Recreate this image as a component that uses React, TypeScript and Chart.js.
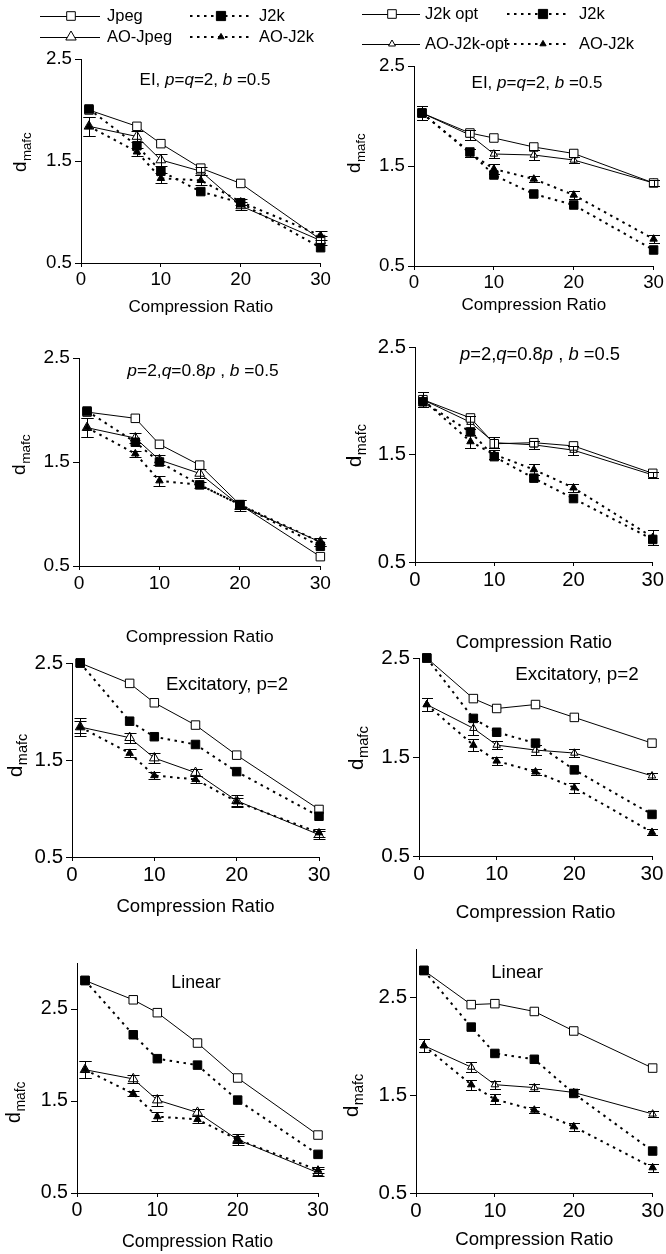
import React, { useEffect, useRef } from "react";
import { Chart, registerables } from "chart.js";

Chart.register(...registerables);

const FAMILY = "'Liberation Sans', Arial, Helvetica, sans-serif";

// ---------- data ----------
const compressionRatio = [1, 7, 10, 15, 20, 30];
const xTickValues = [0, 10, 20, 30];
const yTickValues = [0.5, 1.5, 2.5];
const xAxisTitle = "Compression Ratio";
const yAxisMain = "d";
const yAxisSub = "mafc";

const leftSeriesNames = ["Jpeg", "J2k", "AO-Jpeg", "AO-J2k"];
const rightSeriesNames = ["J2k opt", "J2k", "AO-J2k-opt", "AO-J2k"];

// Panel 1: EI, left
const p1Jpeg = [2.0, 1.84, 1.67, 1.43, 1.28, 0.73];
const p1J2k = [2.01, 1.65, 1.4, 1.2, 1.09, 0.65];
const p1AOJpeg = [1.84, 1.74, 1.51, 1.4, 1.06, 0.72];
const p1AOJ2k = [1.84, 1.59, 1.33, 1.31, 1.1, 0.77];
const p1AOJpegErr = [0.09, 0.05, 0.06, 0.04, 0.04, 0.04];
const p1AOJ2kErr = [0.09, 0.04, 0.05, 0.05, 0.03, 0.04];

// Panel 2: EI, right
const p2J2kOpt = [2.03, 1.83, 1.78, 1.69, 1.625, 1.33];
const p2J2k = [2.03, 1.64, 1.41, 1.22, 1.11, 0.66];
const p2AOJ2kOpt = [2.03, 1.81, 1.62, 1.61, 1.56, 1.33];
const p2AOJ2k = [2.03, 1.63, 1.47, 1.37, 1.21, 0.77];
const p2AOJ2kOptErr = [0.07, 0.05, 0.04, 0.05, 0.03, 0.03];
const p2AOJ2kErr = [0.07, 0.04, 0.05, 0.03, 0.04, 0.04];

// Panel 3: p=2, q=0.8p, left
const p3Jpeg = [1.98, 1.92, 1.67, 1.47, 1.09, 0.59];
const p3J2k = [1.99, 1.69, 1.5, 1.28, 1.09, 0.69];
const p3AOJpeg = [1.83, 1.73, 1.52, 1.39, 1.08, 0.73];
const p3AOJ2k = [1.83, 1.58, 1.32, 1.28, 1.09, 0.73];
const p3AOJpegErr = [0.09, 0.05, 0.05, 0.04, 0.05, 0.04];
const p3AOJ2kErr = [0.09, 0.03, 0.05, 0.03, 0.04, 0.04];

// Panel 4: p=2, q=0.8p, right
const p4J2kOpt = [2.01, 1.84, 1.6, 1.61, 1.58, 1.325];
const p4J2k = [1.99, 1.71, 1.48, 1.28, 1.09, 0.71];
const p4AOJ2kOpt = [2.01, 1.8, 1.61, 1.59, 1.54, 1.31];
const p4AOJ2k = [2.01, 1.62, 1.5, 1.36, 1.19, 0.73];
const p4AOJ2kOptErr = [0.07, 0.06, 0.05, 0.04, 0.04, 0.03];
const p4AOJ2kErr = [0.07, 0.06, 0.04, 0.05, 0.04, 0.07];

// Panel 5: Excitatory, left
const p5Jpeg = [2.5, 2.29, 2.09, 1.86, 1.55, 0.99];
const p5J2k = [2.5, 1.9, 1.74, 1.66, 1.38, 0.92];
const p5AOJpeg = [1.84, 1.73, 1.52, 1.37, 1.08, 0.73];
const p5AOJ2k = [1.84, 1.57, 1.34, 1.3, 1.07, 0.75];
const p5AOJpegErr = [0.09, 0.05, 0.05, 0.04, 0.06, 0.04];
const p5AOJ2kErr = [0.06, 0.04, 0.04, 0.04, 0.04, 0.04];

// Panel 6: Excitatory, right
const p6J2kOpt = [2.5, 2.09, 1.99, 2.03, 1.9, 1.64];
const p6J2k = [2.5, 1.89, 1.75, 1.64, 1.37, 0.92];
const p6AOJ2kOpt = [2.03, 1.79, 1.62, 1.57, 1.54, 1.31];
const p6AOJ2k = [2.03, 1.62, 1.46, 1.35, 1.19, 0.74];
const p6AOJ2kOptErr = [0.07, 0.07, 0.04, 0.05, 0.04, 0.03];
const p6AOJ2kErr = [0.07, 0.06, 0.04, 0.03, 0.05, 0.03];

// Panel 7: Linear, left
const p7Jpeg = [2.81, 2.6, 2.46, 2.13, 1.75, 1.13];
const p7J2k = [2.81, 2.22, 1.96, 1.89, 1.51, 0.92];
const p7AOJpeg = [1.84, 1.74, 1.51, 1.375, 1.08, 0.72];
const p7AOJ2k = [1.84, 1.58, 1.33, 1.3, 1.08, 0.75];
const p7AOJpegErr = [0.09, 0.04, 0.06, 0.04, 0.06, 0.04];
const p7AOJ2kErr = [0.09, 0.03, 0.05, 0.04, 0.04, 0.03];

// Panel 8: Linear, right
const p8J2kOpt = [2.78, 2.43, 2.44, 2.36, 2.16, 1.78];
const p8J2k = [2.78, 2.2, 1.93, 1.87, 1.52, 0.93];
const p8AOJ2kOpt = [2.01, 1.79, 1.61, 1.58, 1.53, 1.31];
const p8AOJ2k = [2.01, 1.61, 1.46, 1.35, 1.18, 0.76];
const p8AOJ2kOptErr = [0.07, 0.05, 0.04, 0.04, 0.04, 0.03];
const p8AOJ2kErr = [0.07, 0.05, 0.05, 0.03, 0.04, 0.04];

// Panel annotations: [text, italic]
const noteEI: [string, boolean][] = [["EI, ", false], ["p", true], ["=", false], ["q", true], ["=2, ", false], ["b", true], [" =0.5", false]];
const noteQ: [string, boolean][] = [["p", true], ["=2,", false], ["q", true], ["=0.8", false], ["p", true], [" , ", false], ["b", true], [" =0.5", false]];
const noteExc: [string, boolean][] = [["Excitatory, p=2", false]];
const noteLin: [string, boolean][] = [["Linear", false]];

// ---------- layout (page coordinates) ----------
const seriesKinds = ["ref", "j2k", "aoRef", "aoJ2k"];

const legendLeft = { rows: [16, 37], cols: [{ x0: 40, x1: 100, mx: 71, tx: 107 }, { x0: 190, x1: 250, mx: 221, tx: 259 }] };
const legendRight = { rows: [14, 44], cols: [{ x0: 362, x1: 420, mx: 392, tx: 425 }, { x0: 507, x1: 570, mx: 543, tx: 579 }] };

const panels = [
  { names: leftSeriesNames, values: [p1Jpeg, p1J2k, p1AOJpeg, p1AOJ2k], errs: [null, null, p1AOJpegErr, p1AOJ2kErr], note: noteEI, right: false, legend: legendLeft,
    cell: { l: 0, t: 0, w: 333, h: 318 }, xL: 81, xR: 322, yT: 59, yB: 263, yMax: 2.5, titleY: 307, fs: 17, ylab: { x: 26, y: 172 }, notePos: { x: 205, y: 80 } },
  { names: rightSeriesNames, values: [p2J2kOpt, p2J2k, p2AOJ2kOpt, p2AOJ2k], errs: [null, null, p2AOJ2kOptErr, p2AOJ2kErr], note: noteEI, right: true, legend: legendRight,
    cell: { l: 333, t: 0, w: 333, h: 318 }, xL: 414, xR: 655, yT: 66, yB: 266, yMax: 2.5, titleY: 305, fs: 17, ylab: { x: 360, y: 173 }, notePos: { x: 537, y: 83 } },
  { names: leftSeriesNames, values: [p3Jpeg, p3J2k, p3AOJpeg, p3AOJ2k], errs: [null, null, p3AOJpegErr, p3AOJ2kErr], note: noteQ, right: false, legend: null,
    cell: { l: 0, t: 320, w: 333, h: 332 }, xL: 79, xR: 321, yT: 358, yB: 566, yMax: 2.5, titleY: 637, fs: 17.4, ylab: { x: 25, y: 475 }, notePos: { x: 203, y: 371 } },
  { names: rightSeriesNames, values: [p4J2kOpt, p4J2k, p4AOJ2kOpt, p4AOJ2k], errs: [null, null, p4AOJ2kOptErr, p4AOJ2kErr], note: noteQ, right: true, legend: null,
    cell: { l: 333, t: 320, w: 333, h: 338 }, xL: 415, xR: 653, yT: 347, yB: 562, yMax: 2.5, titleY: 643, fs: 18.4, ylab: { x: 361, y: 467 }, notePos: { x: 540, y: 355 } },
  { names: leftSeriesNames, values: [p5Jpeg, p5J2k, p5AOJpeg, p5AOJ2k], errs: [null, null, p5AOJpegErr, p5AOJ2kErr], note: noteExc, right: false, legend: null,
    cell: { l: 0, t: 630, w: 333, h: 295 }, xL: 72, xR: 319, yT: 663, yB: 857, yMax: 2.5, titleY: 907, fs: 18.6, ylab: { x: 22, y: 777 }, notePos: { x: 227, y: 685 } },
  { names: rightSeriesNames, values: [p6J2kOpt, p6J2k, p6AOJ2kOpt, p6AOJ2k], errs: [null, null, p6AOJ2kOptErr, p6AOJ2kErr], note: noteExc, right: true, legend: null,
    cell: { l: 333, t: 630, w: 333, h: 300 }, xL: 419, xR: 652, yT: 658, yB: 856, yMax: 2.5, titleY: 913, fs: 18.8, ylab: { x: 363, y: 770 }, notePos: { x: 577, y: 675 } },
  { names: leftSeriesNames, values: [p7Jpeg, p7J2k, p7AOJpeg, p7AOJ2k], errs: [null, null, p7AOJpegErr, p7AOJ2kErr], note: noteLin, right: false, legend: null,
    cell: { l: 0, t: 930, w: 333, h: 324 }, xL: 77, xR: 318, yT: 963, yB: 1193, yMax: 3.0, titleY: 1242, fs: 17.8, ylab: { x: 20, y: 1123 }, notePos: { x: 196, y: 983 } },
  { names: rightSeriesNames, values: [p8J2kOpt, p8J2k, p8AOJ2kOpt, p8AOJ2k], errs: [null, null, p8AOJ2kOptErr, p8AOJ2kErr], note: noteLin, right: true, legend: null,
    cell: { l: 333, t: 930, w: 333, h: 324 }, xL: 416, xR: 653, yT: 949, yB: 1193, yMax: 3.0, titleY: 1240, fs: 18.6, ylab: { x: 358, y: 1117 }, notePos: { x: 517, y: 973 } },
];

// ---------- styling ----------
const DOT_DASH = [2.5, 4.5];
function isDotted(kind: string) { return kind === "j2k" || kind === "aoJ2k"; }
function isTri(kind: string) { return kind === "aoRef" || kind === "aoJ2k"; }
function markerRadius(kind: string, right: boolean) {
  if (kind === "ref" || kind === "j2k") return 6;
  if (kind === "aoRef") return right ? 4.3 : 5.6;
  return 4.3;
}
const drawOrder: Record<string, number> = { j2k: 0, aoJ2k: 1, ref: 2, aoRef: 3 };

function drawMarker(ctx: CanvasRenderingContext2D, kind: string, x: number, y: number, r: number) {
  ctx.save();
  ctx.lineWidth = 1;
  ctx.setLineDash([]);
  ctx.strokeStyle = "#000";
  ctx.fillStyle = isDotted(kind) ? "#000" : "#fff";
  ctx.beginPath();
  if (isTri(kind)) {
    ctx.moveTo(x, y - r);
    ctx.lineTo(x + r * 0.866, y + r * 0.5);
    ctx.lineTo(x - r * 0.866, y + r * 0.5);
    ctx.closePath();
  } else {
    ctx.rect(x - r, y - r, 2 * r, 2 * r);
  }
  ctx.fill();
  ctx.stroke();
  ctx.restore();
}

function buildConfig(spec: any, idx: number) {
  const c = spec.cell;
  const ox = c.l, oy = c.t;
  const fs = spec.fs;
  const lh = fs * 1.2;
  const titlePadB = Math.max(0, c.t + c.h - spec.titleY - lh / 2);

  const datasets = spec.values.map((vals: number[], i: number) => {
    const kind = seriesKinds[i];
    const dotted = isDotted(kind);
    return {
      label: spec.names[i],
      data: vals.map((v, j) => ({ x: compressionRatio[j], y: v })),
      borderColor: "#000",
      borderWidth: dotted ? 2 : 1,
      borderDash: dotted ? DOT_DASH : [],
      pointStyle: isTri(kind) ? "triangle" : "rect",
      pointRadius: markerRadius(kind, spec.right),
      pointBackgroundColor: dotted ? "#000" : "#fff",
      pointBorderColor: "#000",
      pointBorderWidth: 1,
      tension: 0,
      fill: false,
      clip: false,
      order: drawOrder[kind],
    };
  });

  const deco = {
    id: "deco" + idx,
    afterDatasetsDraw(chart: any) {
      const ctx = chart.ctx;
      const xs = chart.scales.x, ys = chart.scales.y;
      ctx.save();
      ctx.strokeStyle = "#000";
      ctx.lineWidth = 1;
      ctx.setLineDash([]);
      const cap = spec.right ? 5.5 : 6;
      spec.values.forEach((vals: number[], i: number) => {
        const err = spec.errs[i];
        if (!err) return;
        vals.forEach((v, j) => {
          const px = Math.round(xs.getPixelForValue(compressionRatio[j])) + 0.5;
          const t = Math.round(ys.getPixelForValue(v + err[j])) + 0.5;
          const b = Math.round(ys.getPixelForValue(v - err[j])) + 0.5;
          ctx.beginPath();
          ctx.moveTo(px, t); ctx.lineTo(px, b);
          ctx.moveTo(px - cap, t); ctx.lineTo(px + cap, t);
          ctx.moveTo(px - cap, b); ctx.lineTo(px + cap, b);
          ctx.stroke();
        });
      });
      ctx.restore();
    },
    afterDraw(chart: any) {
      const ctx = chart.ctx;
      ctx.save();
      ctx.fillStyle = "#000";
      // annotation
      ctx.textBaseline = "middle";
      ctx.textAlign = "left";
      const segFont = (it: boolean) => `${it ? "italic " : ""}${fs}px ${FAMILY}`;
      let total = 0;
      spec.note.forEach(([t, it]: [string, boolean]) => { ctx.font = segFont(it); total += ctx.measureText(t).width; });
      let nx = spec.notePos.x - ox - total / 2;
      const ny = spec.notePos.y - oy;
      spec.note.forEach(([t, it]: [string, boolean]) => { ctx.font = segFont(it); ctx.fillText(t, nx, ny); nx += ctx.measureText(t).width; });
      // y axis label d_mafc
      ctx.save();
      ctx.translate(spec.ylab.x - ox, spec.ylab.y - oy);
      ctx.rotate(-Math.PI / 2);
      ctx.textBaseline = "alphabetic";
      ctx.font = `${fs * 1.1}px ${FAMILY}`;
      ctx.fillText(yAxisMain, 0, 0);
      const dw = ctx.measureText(yAxisMain).width;
      ctx.font = `${fs * 0.78}px ${FAMILY}`;
      ctx.fillText(yAxisSub, dw + 0.5, 5);
      ctx.restore();
      // legend
      if (spec.legend) {
        const L = spec.legend;
        L.rows.forEach((ry: number, r: number) => {
          L.cols.forEach((col: any, k: number) => {
            const si = r * 2 + k;
            const kind = seriesKinds[si];
            const dotted = isDotted(kind);
            const y = ry - oy;
            ctx.save();
            ctx.strokeStyle = "#000";
            ctx.lineWidth = dotted ? 2 : 1;
            ctx.setLineDash(dotted ? DOT_DASH : []);
            ctx.beginPath();
            ctx.moveTo(col.x0 - ox, Math.round(y) + (dotted ? 0 : 0.5));
            ctx.lineTo(col.x1 - ox, Math.round(y) + (dotted ? 0 : 0.5));
            ctx.stroke();
            ctx.restore();
            let mr = 4.3;
            if (kind === "j2k") mr = 4.6;
            if (kind === "aoRef") mr = spec.right ? 4 : 6;
            if (kind === "aoJ2k") mr = 3.6;
            drawMarker(ctx, kind, col.mx - ox, y, mr);
            ctx.fillStyle = "#000";
            ctx.font = `16.5px ${FAMILY}`;
            ctx.textBaseline = "middle";
            ctx.textAlign = "left";
            ctx.fillText(spec.names[si], col.tx - ox, y);
          });
        });
      }
      ctx.restore();
    },
  };

  const tickFont = { family: FAMILY, size: fs * 1.1 };

  return {
    type: "line",
    data: { datasets },
    options: {
      animation: false,
      responsive: false,
      maintainAspectRatio: false,
      events: [],
      layout: { padding: { left: 0, top: spec.yT - oy, right: c.l + c.w - spec.xR, bottom: 0 } },
      plugins: { legend: { display: false }, tooltip: { enabled: false }, title: { display: false } },
      scales: {
        x: {
          type: "linear",
          min: 0,
          max: 30,
          offset: false,
          afterBuildTicks: (s: any) => { s.ticks = xTickValues.map((v) => ({ value: v })); },
          afterFit: (s: any) => { s.height = c.t + c.h - spec.yB; },
          ticks: { font: tickFont, color: "#000", padding: 2, maxRotation: 0, autoSkip: false, callback: (v: any) => String(v) },
          grid: { drawOnChartArea: false, drawTicks: true, tickLength: 4, color: "#000", tickColor: "#000", lineWidth: 1 },
          border: { display: true, color: "#000", width: 1 },
          title: { display: true, text: xAxisTitle, color: "#000", font: { family: FAMILY, size: fs }, padding: { top: 0, bottom: titlePadB } },
        },
        y: {
          type: "linear",
          min: 0.5,
          max: spec.yMax,
          afterBuildTicks: (s: any) => { s.ticks = yTickValues.map((v) => ({ value: v })); },
          afterFit: (s: any) => { s.width = spec.xL - c.l; },
          ticks: { font: tickFont, color: "#000", padding: 3, autoSkip: false, callback: (v: any) => Number(v).toFixed(1) },
          grid: { drawOnChartArea: false, drawTicks: true, tickLength: 6, color: "#000", tickColor: "#000", lineWidth: 1 },
          border: { display: true, color: "#000", width: 1 },
        },
      },
    },
    plugins: [deco],
  };
}

function Panel({ spec, idx }: { spec: any; idx: number }) {
  const ref = useRef<HTMLCanvasElement>(null);
  useEffect(() => {
    if (!ref.current) return;
    const chart = new Chart(ref.current, buildConfig(spec, idx) as any);
    return () => chart.destroy();
  }, [spec, idx]);
  const c = spec.cell;
  return (
    <canvas
      ref={ref}
      width={c.w}
      height={c.h}
      style={{ position: "absolute", left: c.l, top: c.t, width: c.w, height: c.h }}
    />
  );
}

export default function App() {
  return (
    <div style={{ position: "absolute", left: 0, top: 0, width: 666, height: 1254, background: "#fff", overflow: "hidden" }}>
      {panels.map((p, i) => (
        <Panel key={i} spec={p} idx={i} />
      ))}
    </div>
  );
}
